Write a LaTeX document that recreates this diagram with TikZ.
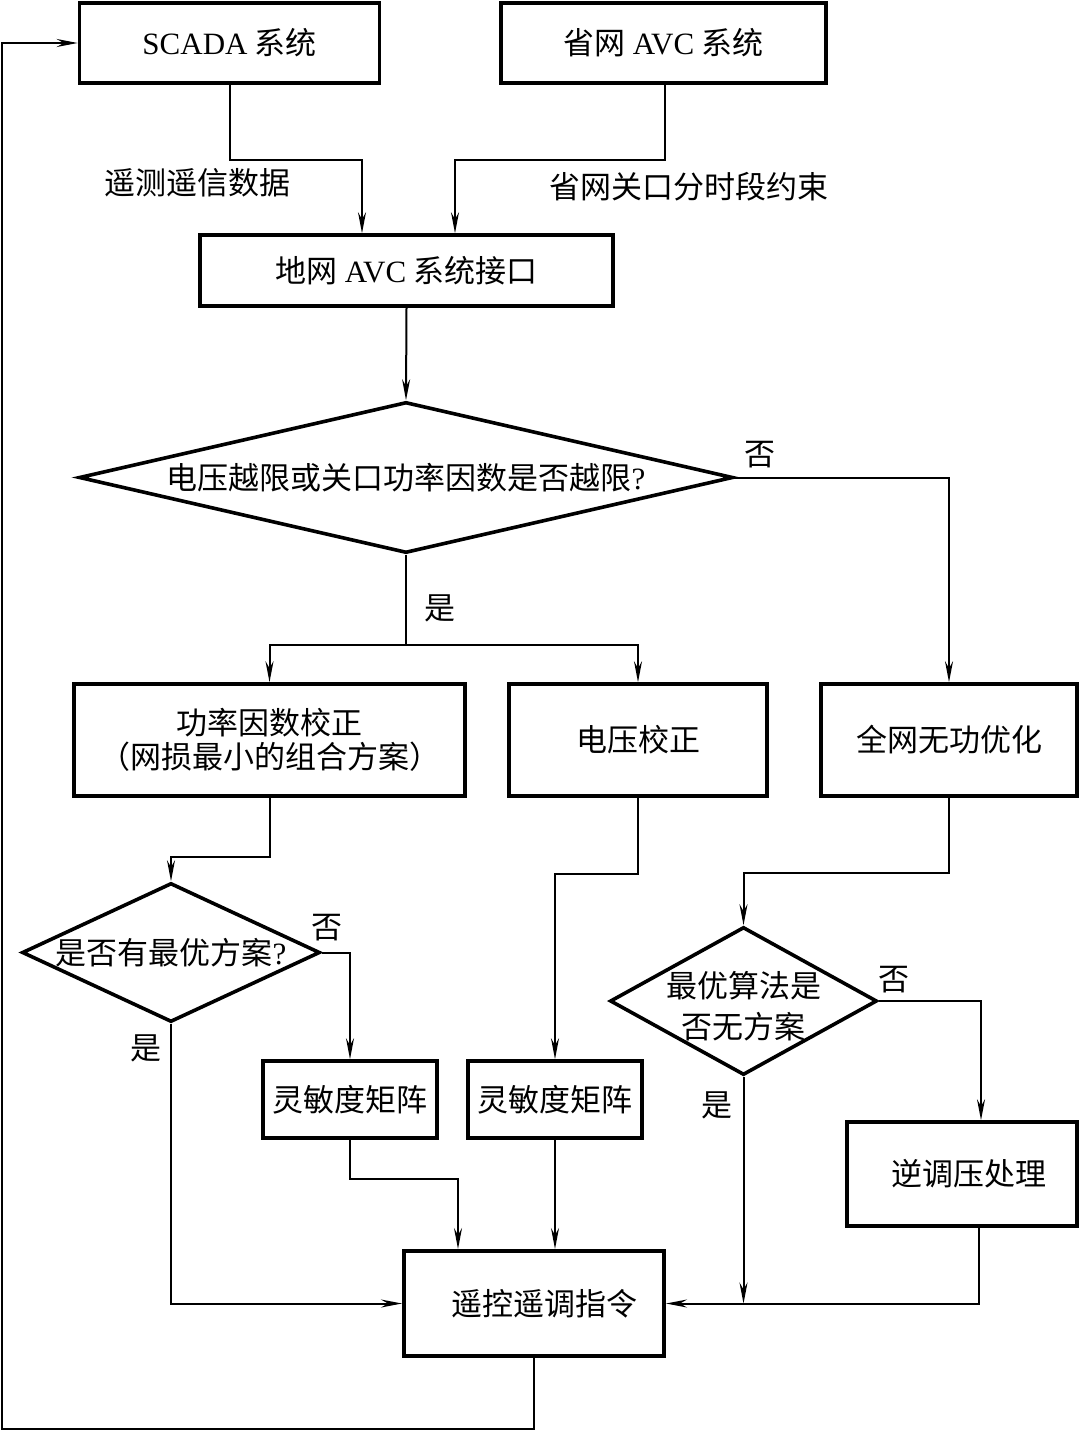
\documentclass[tikz,border=0pt]{standalone}
\usepackage{fontspec}
\setmainfont{Liberation Serif}
\newfontfamily\cjk{Noto Sans CJK SC}
\newfontfamily\latfont{Liberation Serif}
\usetikzlibrary{arrows.meta,shapes.geometric}
\begin{document}
\begin{tikzpicture}[x=1pt,y=-1pt,
  every node/.style={font=\cjk\fontsize{31}{34}\selectfont},
  box/.style={draw,line width=3.6pt,inner sep=0pt,align=center},
  dia/.style={draw,diamond,line width=3.6pt,inner sep=0pt},
  lbl/.style={inner sep=0pt},
  conn/.style={line width=2pt},
  arr/.style={line width=2pt,-{Stealth[length=21pt,width=8pt,inset=7pt]}}]
\useasboundingbox (0,0) rectangle (1079,1431);
% boxes
\node[box,minimum width=300,minimum height=80] (scada) at (229.5,43) {{\latfont SCADA} 系统};
\node[box,minimum width=325,minimum height=80] (prov) at (663.5,43) {省网 {\latfont AVC} 系统};
\node[box,minimum width=413,minimum height=71] (iface) at (406.5,270.5) {地网 {\latfont AVC} 系统接口};
\node[dia,minimum width=654,minimum height=151] (d1) at (406,477.5) {};
\node[lbl] (d1t) at (d1) {电压越限或关口功率因数是否越限{\latfont ?}};
\node[box,minimum width=391,minimum height=112] (pf) at (269.5,740) {功率因数校正\\（网损最小的组合方案）};
\node[box,minimum width=258,minimum height=112] (vc) at (638,740) {电压校正};
\node[box,minimum width=256,minimum height=112] (opt) at (949,740) {全网无功优化};
\node[dia,minimum width=298,minimum height=139] (d2) at (171,952.5) {};
\node[lbl] (d2t) at (d2) {是否有最优方案{\latfont ?}};
\node[dia,minimum width=267,minimum height=148] (d3) at (743.5,1001) {};
\node[lbl,align=center,font=\cjk\fontsize{31}{41}\selectfont] (d3t) at (743.5,1006) {最优算法是\\否无方案};
\node[box,minimum width=174,minimum height=77] (s1) at (350,1099.5) {灵敏度矩阵};
\node[box,minimum width=174,minimum height=77] (s2) at (555,1099.5) {灵敏度矩阵};
\node[box,minimum width=230,minimum height=104] (inv) at (962,1174) {\hspace*{14pt}逆调压处理};
\node[box,minimum width=260,minimum height=105,line width=4pt] (cmd) at (534,1303.5) {\hspace*{20pt}遥控遥调指令};
% labels
\node[lbl] (l1) at (197,183) {遥测遥信数据};
\node[lbl] (l2) at (689,187) {省网关口分时段约束};
\node[lbl] (y1) at (440,608) {是};
\node[lbl] (n1) at (760,455) {否};
\node[lbl] (n2) at (327,928) {否};
\node[lbl] (y2) at (146,1048) {是};
\node[lbl] (n3) at (894,980) {否};
\node[lbl] (y3) at (717,1105) {是};
% connectors
\draw[arr] (scada.south) -- ++(0,75) -| ([xshift=-44.5pt]iface.north);
\draw[arr] ([xshift=1.5pt]prov.south) -- ++(0,75) -| ([xshift=48.5pt]iface.north);
\draw[arr] (iface.south) -- (d1.north);
\draw[conn] (d1.south) -- ++(0,90) coordinate (split);
\draw[arr] (split) -| (pf.north);
\draw[arr] (split) -| (vc.north);
\draw[arr] (d1.east) -| (opt.north);
\draw[arr] (pf.south) -- ++(0,59) -| (d2.north);
\draw[arr] (vc.south) -- ++(0,76) -| (s2.north);
\draw[arr] (opt.south) -- ++(0,75) -| (d3.north);
\draw[arr] (d2.east) -| (s1.north);
\draw[arr] (d3.east) -| ([xshift=19pt]inv.north);
\draw[arr] (d2.south) |- (cmd.west);
\draw[arr] (s1.south) -- ++(0,39) -| ([xshift=-76pt]cmd.north);
\draw[arr] (s2.south) -- (s2.south |- cmd.north);
\draw[arr] ([xshift=17pt]inv.south) |- (cmd.east);
\draw[arr] (d3.south) -- (d3.south |- cmd.east);
\coordinate (fb) at (2,1429);
\draw[arr,line width=2.4pt] (cmd.south) |- (fb) |- (scada.west);
\end{tikzpicture}
\end{document}
